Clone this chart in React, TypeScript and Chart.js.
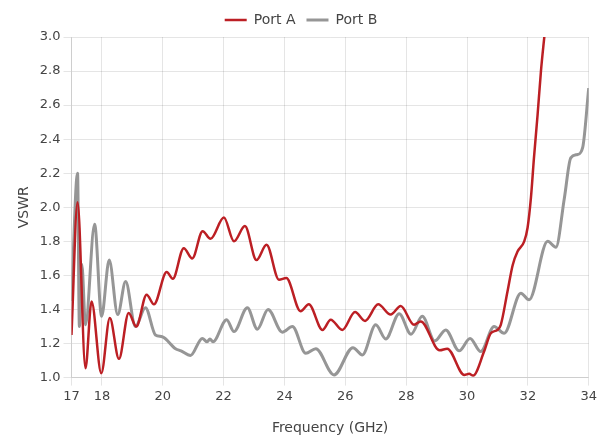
import React, { useEffect, useRef } from "react";
import { Chart, registerables } from "chart.js";

Chart.register(...registerables);

const portAFreq = [17.0, 17.2, 17.46, 17.66, 17.98, 18.26, 18.56, 18.88, 19.13, 19.47, 19.71, 20.13, 20.33, 20.69, 20.97, 21.31, 21.57, 22.01, 22.34, 22.7, 23.08, 23.41, 23.82, 24.06, 24.53, 24.8, 25.25, 25.52, 25.9, 26.32, 26.65, 27.08, 27.49, 27.82, 28.26, 28.48, 29.1, 29.35, 29.91, 30.07, 30.2, 30.56, 30.78, 31.0, 31.11, 31.33, 31.5, 31.66, 31.88, 31.99, 32.1, 32.2, 32.32, 32.43, 32.54, 32.7, 33.0];
const portAVswr = [1.25, 2.03, 1.055, 1.447, 1.025, 1.35, 1.11, 1.38, 1.3, 1.487, 1.43, 1.62, 1.58, 1.76, 1.7, 1.86, 1.815, 1.94, 1.8, 1.89, 1.69, 1.78, 1.575, 1.585, 1.39, 1.43, 1.28, 1.34, 1.28, 1.385, 1.333, 1.43, 1.37, 1.42, 1.31, 1.33, 1.16, 1.17, 1.016, 1.022, 1.012, 1.153, 1.26, 1.28, 1.31, 1.506, 1.66, 1.74, 1.8, 1.88, 2.055, 2.29, 2.545, 2.8, 3.0, 3.28, 3.7];

const portBFreq = [17.0, 17.2, 17.26, 17.34, 17.46, 17.76, 17.99, 18.24, 18.52, 18.78, 19.1, 19.43, 19.76, 19.98, 20.42, 20.6, 20.91, 21.3, 21.46, 21.55, 21.65, 22.1, 22.34, 22.78, 23.11, 23.46, 23.93, 24.26, 24.7, 25.03, 25.63, 26.25, 26.56, 27.0, 27.33, 27.77, 28.16, 28.53, 28.94, 29.3, 29.74, 30.1, 30.45, 30.89, 31.22, 31.77, 32.04, 32.65, 32.92, 33.2, 33.41, 33.63, 33.8, 34.0];
const portBVswr = [1.45, 2.2, 1.3, 1.665, 1.31, 1.9, 1.36, 1.69, 1.37, 1.565, 1.3, 1.41, 1.25, 1.24, 1.17, 1.157, 1.13, 1.23, 1.21, 1.227, 1.21, 1.34, 1.27, 1.41, 1.284, 1.4, 1.267, 1.3, 1.143, 1.17, 1.016, 1.176, 1.133, 1.31, 1.227, 1.375, 1.255, 1.36, 1.215, 1.28, 1.157, 1.23, 1.153, 1.3, 1.26, 1.496, 1.457, 1.8, 1.765, 2.055, 2.29, 2.31, 2.35, 2.7];

const xTicks = [17, 18, 20, 22, 24, 26, 28, 30, 32, 34];

const FONT = "'DejaVu Sans', sans-serif";

export default function App() {
  const ref = useRef<HTMLCanvasElement | null>(null);
  useEffect(() => {
    if (!ref.current) return;
    const toPts = (xs: number[], ys: number[]) => xs.map((x, i) => ({ x, y: ys[i] }));
    const chart = new Chart(ref.current, {
      type: "line",
      data: {
        datasets: [
          {
            label: "Port A",
            data: toPts(portAFreq, portAVswr),
            borderColor: "#BC1F24",
            backgroundColor: "#BC1F24",
            borderWidth: 2.5,
            pointRadius: 0,
            cubicInterpolationMode: "monotone",
          },
          {
            label: "Port B",
            data: toPts(portBFreq, portBVswr),
            borderColor: "#969696",
            backgroundColor: "#969696",
            borderWidth: 3,
            pointRadius: 0,
            cubicInterpolationMode: "monotone",
          },
        ],
      },
      options: {
        animation: false,
        responsive: true,
        maintainAspectRatio: false,
        layout: { padding: { left: 12, right: 10, top: 2, bottom: 4 } },
        plugins: {
          legend: {
            position: "top",
            labels: {
              usePointStyle: true,
              pointStyle: "line",
              pointStyleWidth: 22,
              color: "#444",
              font: { family: FONT, size: 14 },
              padding: 11,
            },
          },
          tooltip: { enabled: false },
        },
        scales: {
          x: {
            type: "linear",
            min: 17,
            max: 34,
            afterBuildTicks: (axis: any) => {
              axis.ticks = xTicks.map((v) => ({ value: v }));
            },
            ticks: {
              autoSkip: false,
              maxRotation: 0,
              color: "#444",
              font: { family: FONT, size: 13 },
            },
            grid: { color: "rgba(0,0,0,0.1)" },
            title: {
              display: true,
              text: "Frequency (GHz)",
              color: "#444",
              font: { family: FONT, size: 14 },
              padding: { top: 13 },
            },
          },
          y: {
            min: 1.0,
            max: 3.0,
            ticks: {
              stepSize: 0.2,
              color: "#444",
              font: { family: FONT, size: 13 },
              callback: (v: any) => Number(v).toFixed(1),
            },
            grid: { color: "rgba(0,0,0,0.1)" },
            title: {
              display: true,
              text: "VSWR",
              color: "#444",
              font: { family: FONT, size: 14 },
            },
          },
        },
      },
    });
    return () => chart.destroy();
  }, []);
  return (
    <div style={{ position: "fixed", left: 0, top: 0, width: 600, height: 445 }}>
      <canvas ref={ref} />
    </div>
  );
}
